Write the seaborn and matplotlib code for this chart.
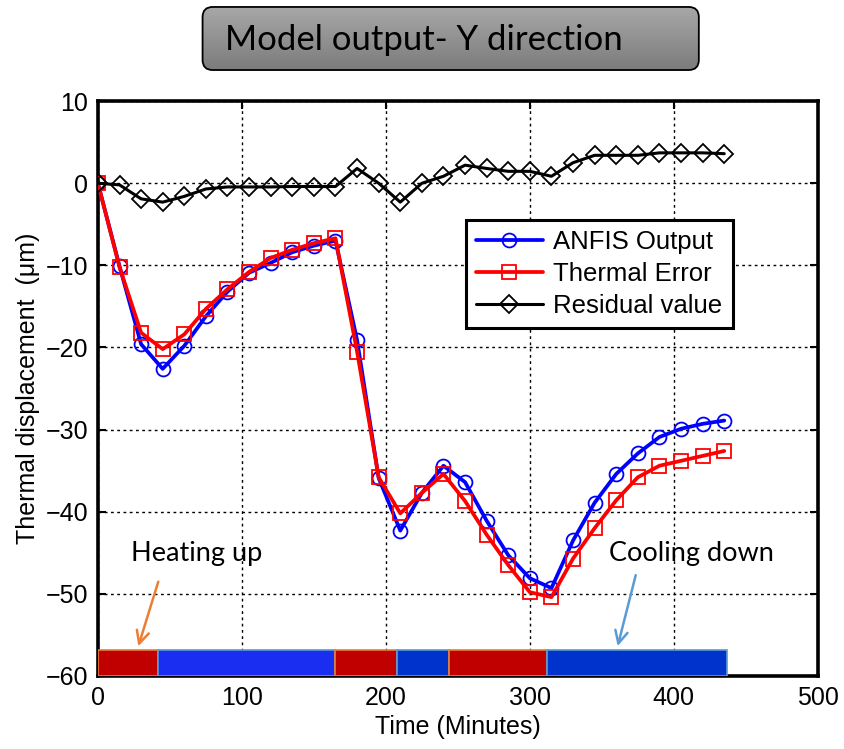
import numpy as np
import pandas as pd
import matplotlib
matplotlib.use("Agg")
import matplotlib.pyplot as plt
import seaborn as sns
from matplotlib.patches import FancyBboxPatch

# ---------------- data ----------------
time_min = [0, 15, 30, 45, 60, 75, 90, 105, 120, 135, 150, 165, 180, 195, 210,
            225, 240, 255, 270, 285, 300, 315, 330, 345, 360, 375, 390, 405, 420, 435]
anfis_output = [0, -10.1, -19.6, -22.6, -19.8, -16.2, -13.2, -10.9, -9.7, -8.4, -7.6, -7.0,
                -19.1, -35.9, -42.3, -37.7, -34.4, -36.4, -41.1, -45.3, -48.1, -49.3,
                -43.5, -38.9, -35.4, -32.9, -30.9, -29.9, -29.3, -28.9]
thermal_error = [0, -10.2, -18.2, -20.2, -18.4, -15.3, -12.9, -10.8, -9.1, -8.1, -7.3, -6.7,
                 -20.5, -35.8, -40.2, -37.7, -35.4, -38.7, -42.8, -46.5, -49.8, -50.4,
                 -45.7, -42.0, -38.6, -35.8, -34.4, -33.8, -33.2, -32.6]
residual_value = [0, -0.2, -1.9, -2.3, -1.6, -0.7, -0.45, -0.45, -0.45, -0.4, -0.4, -0.4,
                  1.8, 0.0, -2.3, 0.0, 0.85, 2.2, 1.8, 1.45, 1.45, 0.85,
                  2.5, 3.4, 3.4, 3.4, 3.7, 3.7, 3.7, 3.6]

phase_start = [0, 42, 165, 208, 244, 312]
phase_end = [42, 165, 208, 244, 312, 437]
phase_kind = ["heat", "cool", "heat", "cool", "heat", "cool"]
phase_fill = ["#C00000", "#1A2EF2", "#C00000", "#0033CC", "#C00000", "#0033CC"]

x_ticks = [0, 100, 200, 300, 400, 500]
y_ticks = [10, 0, -10, -20, -30, -40, -50, -60]

# ---------------- style ----------------
sns.set_style("ticks")
plt.rcParams["font.family"] = ["Liberation Sans", "DejaVu Sans"]
plt.rcParams["text.color"] = "black"
plt.rcParams["axes.labelcolor"] = "black"

fig = plt.figure(figsize=(8.44, 7.49), dpi=100)
ax = fig.add_axes([0.116, 0.0975, 0.853, 0.7675])

df = pd.DataFrame({"t": time_min, "anfis": anfis_output,
                   "thermal": thermal_error, "resid": residual_value})

sns.lineplot(data=df, x="t", y="anfis", ax=ax, color="#0000FF", lw=2.7,
             marker="o", markersize=10, markerfacecolor="none",
             markeredgecolor="#0000FF", markeredgewidth=1.3, label="ANFIS Output", zorder=4)
sns.lineplot(data=df, x="t", y="thermal", ax=ax, color="#FF0000", lw=2.7,
             marker="s", markersize=10, markerfacecolor="none",
             markeredgecolor="#FF0000", markeredgewidth=1.3, label="Thermal Error", zorder=5)
sns.lineplot(data=df, x="t", y="resid", ax=ax, color="black", lw=2.2,
             marker="D", markersize=9, markerfacecolor="none",
             markeredgecolor="black", markeredgewidth=1.3, label="Residual value", zorder=6)

# phase bar at the bottom
bar_bottom, bar_top = -60, -56.8
for s, e, k, c in zip(phase_start, phase_end, phase_kind, phase_fill):
    ec = "#ED7D31" if k == "heat" else "#5B9BD5"
    ax.barh(y=(bar_bottom + bar_top) / 2, width=e - s, left=s, height=bar_top - bar_bottom,
            color=c, edgecolor=ec, linewidth=1.2, zorder=3)

# annotations
ax.text(23, -45.1, "Heating up", fontsize=19.5, family=["Lato", "DejaVu Sans"],
        va="center", ha="left", color="black")
ax.annotate("", xy=(27.5, -56.7), xytext=(42.5, -48.2),
            arrowprops=dict(arrowstyle="->,head_length=0.9,head_width=0.45",
                            color="#ED7D31", lw=1.8))
ax.text(355, -45.1, "Cooling down", fontsize=19.5, family=["Lato", "DejaVu Sans"],
        va="center", ha="left", color="black")
ax.annotate("", xy=(360.5, -56.7), xytext=(374, -47.4),
            arrowprops=dict(arrowstyle="->,head_length=0.9,head_width=0.45",
                            color="#5B9BD5", lw=1.8))

# axes
ax.set_xlim(0, 500)
ax.set_ylim(-60, 10)
ax.set_xticks(x_ticks)
ax.set_yticks(y_ticks)
ax.tick_params(direction="in", length=6, width=1.5, labelsize=18, top=True, right=True,
               pad=7, colors="black")
ax.grid(True, color="black", linestyle=(0, (2, 2.5)), linewidth=1.0, zorder=0)
for sp in ax.spines.values():
    sp.set_linewidth(2.6)
    sp.set_color("black")
    sp.set_visible(True)
ax.set_xlabel("Time (Minutes)", fontsize=18, labelpad=4)
ax.set_ylabel("Thermal displacement  (\u03bcm)", fontsize=18, labelpad=4)

leg = ax.legend(loc="upper left", bbox_to_anchor=(0.511, 0.793), fontsize=18.5,
                frameon=True, fancybox=False, framealpha=1, edgecolor="black",
                handlelength=2.6, handletextpad=0.4, borderpad=0.4, labelspacing=0.3,
                borderaxespad=0)
leg.get_frame().set_linewidth(2.2)
for t in leg.get_texts():
    t.set_color("black")

# title box with gradient
x0, y0, w, h = 0.240, 0.9065, 0.588, 0.0842
box = FancyBboxPatch((x0, y0), w, h, boxstyle="round,pad=0,rounding_size=0.012",
                     mutation_aspect=844 / 749, transform=fig.transFigure,
                     facecolor="none", edgecolor="black", linewidth=1.3, zorder=3)
fig.patches.append(box)
bax = fig.add_axes([x0, y0, w, h])
bax.axis("off")
grad = np.linspace(0, 1, 100).reshape(-1, 1)
im = bax.imshow(grad, aspect="auto", cmap=matplotlib.colors.LinearSegmentedColormap.from_list(
    "g", ["#A8A8A8", "#7C7C7C"]), extent=[0, 1, 0, 1], origin="upper",
    transform=bax.transAxes)
im.set_clip_path(box)
fig.text(0.2666, 0.9466, "Model output- Y direction", fontsize=25,
         family=["Lato", "DejaVu Sans"], va="center", ha="left", zorder=5, color="black")

fig.savefig("out.png", dpi=100)
